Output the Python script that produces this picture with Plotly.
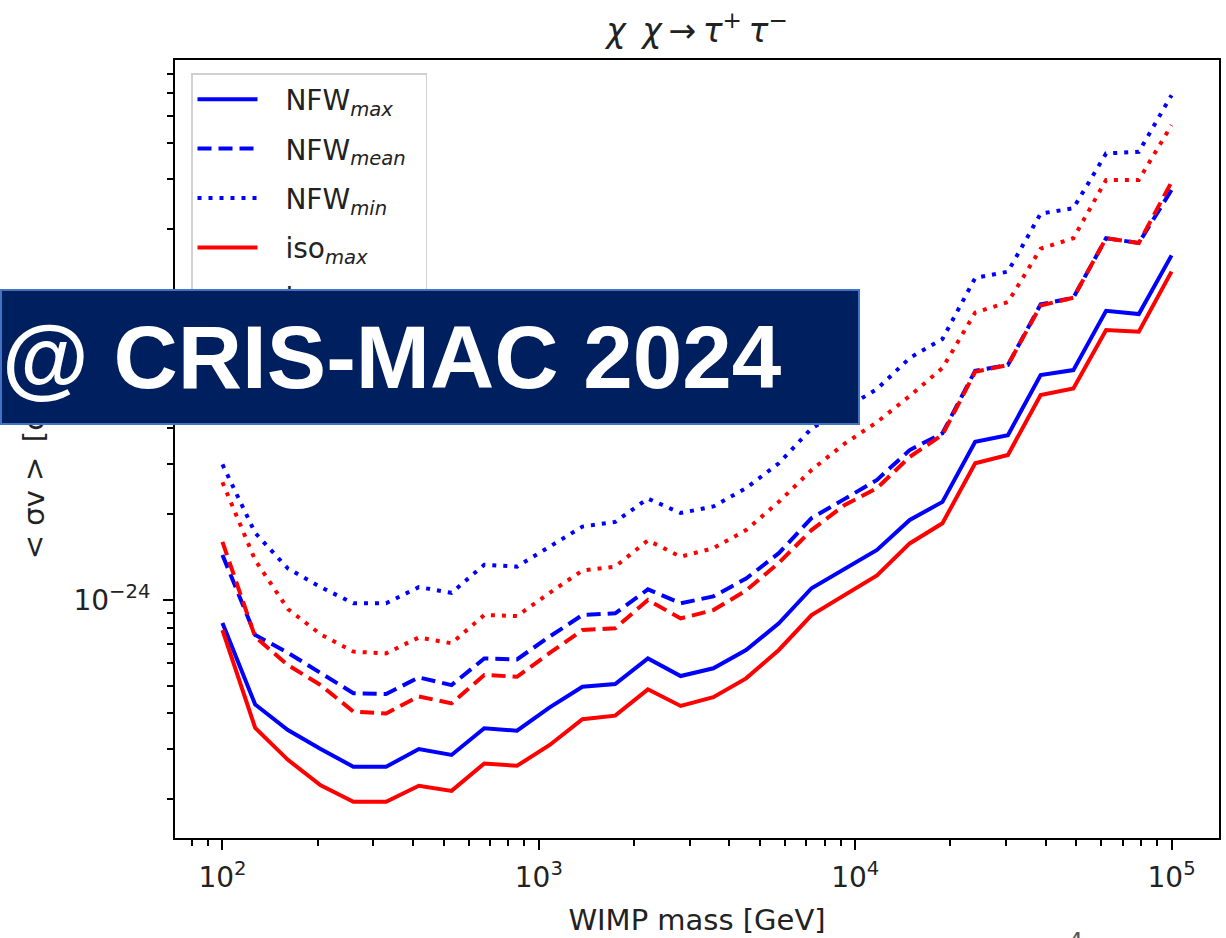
import plotly.graph_objects as go

# WIMP masses [GeV] (30 log-spaced points from 100 GeV to 100 TeV)
wimp_mass = [100, 126.90, 161.03, 204.35, 259.32, 329.07, 417.53, 529.83, 672.34, 853.17,
             1082.6, 1373.8, 1743.3, 2212.2, 2807.2, 3562.2, 4520.4, 5736.2, 7278.9, 9236.7,
             11721, 14874, 18874, 23950, 30392, 38566, 48939, 62102, 78805, 100000]

# <sigma v> upper limits [cm^3/s]
nfw_max = [8.3e-25, 4.3e-25, 3.5e-25, 3.0e-25, 2.6e-25, 2.6e-25, 3.0e-25, 2.86e-25, 3.55e-25, 3.48e-25,
           4.2e-25, 4.96e-25, 5.07e-25, 6.24e-25, 5.41e-25, 5.76e-25, 6.68e-25, 8.28e-25, 1.10e-24, 1.29e-24,
           1.50e-24, 1.91e-24, 2.21e-24, 3.59e-24, 3.79e-24, 6.16e-24, 6.41e-24, 1.035e-23, 1.008e-23, 1.62e-23]
nfw_mean = [1.44e-24, 7.54e-25, 6.53e-25, 5.53e-25, 4.71e-25, 4.68e-25, 5.35e-25, 5.03e-25, 6.24e-25, 6.19e-25,
            7.45e-25, 8.86e-25, 8.98e-25, 1.09e-24, 9.74e-25, 1.03e-24, 1.19e-24, 1.46e-24, 1.94e-24, 2.26e-24,
            2.64e-24, 3.36e-24, 3.85e-24, 6.38e-24, 6.68e-24, 1.09e-23, 1.15e-23, 1.86e-23, 1.79e-23, 2.75e-23]
nfw_min = [2.99e-24, 1.72e-24, 1.29e-24, 1.11e-24, 9.74e-25, 9.74e-25, 1.11e-24, 1.06e-24, 1.33e-24, 1.31e-24,
           1.54e-24, 1.81e-24, 1.88e-24, 2.27e-24, 2.02e-24, 2.13e-24, 2.47e-24, 3.02e-24, 4.00e-24, 4.68e-24,
           5.50e-24, 7.07e-24, 8.24e-24, 1.35e-23, 1.42e-23, 2.27e-23, 2.37e-23, 3.69e-23, 3.74e-23, 5.91e-23]
iso_max = [7.85e-25, 3.56e-25, 2.75e-25, 2.24e-25, 1.96e-25, 1.96e-25, 2.23e-25, 2.14e-25, 2.67e-25, 2.62e-25,
           3.10e-25, 3.82e-25, 3.93e-25, 4.86e-25, 4.25e-25, 4.56e-25, 5.31e-25, 6.68e-25, 8.86e-25, 1.04e-24,
           1.22e-24, 1.58e-24, 1.86e-24, 3.02e-24, 3.23e-24, 5.24e-24, 5.53e-24, 8.86e-24, 8.74e-24, 1.42e-23]
iso_mean = [1.60e-24, 7.42e-25, 5.91e-25, 5.03e-25, 4.06e-25, 4.00e-25, 4.59e-25, 4.34e-25, 5.46e-25, 5.38e-25,
            6.52e-25, 7.85e-25, 7.96e-25, 1.00e-24, 8.62e-25, 9.22e-25, 1.08e-24, 1.35e-24, 1.76e-24, 2.15e-24,
            2.47e-24, 3.18e-24, 3.80e-24, 6.32e-24, 6.68e-24, 1.08e-23, 1.15e-23, 1.86e-23, 1.79e-23, 2.93e-23]
iso_min = [2.59e-24, 1.38e-24, 9.30e-25, 7.58e-25, 6.59e-25, 6.50e-25, 7.39e-25, 7.05e-25, 8.86e-25, 8.79e-25,
           1.06e-24, 1.27e-24, 1.31e-24, 1.62e-24, 1.42e-24, 1.52e-24, 1.76e-24, 2.21e-24, 2.86e-24, 3.53e-24,
           4.21e-24, 5.20e-24, 6.52e-24, 1.02e-23, 1.11e-23, 1.71e-23, 1.86e-23, 2.98e-23, 2.98e-23, 4.64e-23]

PAD = "\u2002\u00a0"   # gap between legend line and label, as in the reference
TRAIL = "\u2002"
series_names = [PAD + "NFW<sub><i>max</i></sub>" + TRAIL, PAD + "NFW<sub><i>mean</i></sub>" + TRAIL,
                PAD + "NFW<sub><i>min</i></sub>" + TRAIL, PAD + "iso<sub><i>max</i></sub>" + TRAIL,
                PAD + "iso<sub><i>mean</i></sub>" + TRAIL, PAD + "iso<sub><i>min</i></sub>" + TRAIL]
series_values = [nfw_max, nfw_mean, nfw_min, iso_max, iso_mean, iso_min]
series_colors = ["#0000ff", "#0000ff", "#0000ff", "#ff0000", "#ff0000", "#ff0000"]
series_dashes = ["solid", "14px,7px", "4px,7px", "solid", "14px,7px", "4px,7px"]

x_tick_vals = [1e2, 1e3, 1e4, 1e5]
x_tick_text = ["10<sup>2</sup>", "10<sup>3</sup>", "10<sup>4</sup>", "10<sup>5</sup>"]
y_tick_vals = [1e-24, 1e-23]
y_tick_text = ["10<sup>\u221224</sup>", "10<sup>\u221223</sup>"]

x_minor = [m * 10 ** e for e in range(1, 6) for m in range(2, 10)]
y_minor = [m * 10.0 ** e for e in range(-26, -21) for m in range(2, 10)]

fig = go.Figure()
for name, vals, color, dash in zip(series_names, series_values, series_colors, series_dashes):
    fig.add_trace(go.Scatter(x=wimp_mass, y=vals, mode="lines", name=name, legendgroup=name,
                             line=dict(color=color, width=4, dash=dash)))

W, H = 1226, 938
L, R, T, B = 175, 7, 60, 100
pw, ph = W - L - R, H - T - B

axis_common = dict(showline=True, linecolor="black", linewidth=2, mirror=True,
                   ticks="outside", ticklen=10, tickwidth=2, tickcolor="black",
                   showgrid=False, zeroline=False,
                   tickfont=dict(family="DejaVu Sans", size=28, color="#222"))

title_text = ("<i>\u03c7</i>\u2002<i>\u03c7</i>\u2009\u2192\u2009<i>\u03c4</i><sup>+</sup>"
              "\u2009<i>\u03c4</i><sup>\u2212</sup>")

fig.update_layout(
    width=W, height=H,
    margin=dict(l=L, r=R, t=T, b=B, autoexpand=False),
    paper_bgcolor="white", plot_bgcolor="white",
    font=dict(family="DejaVu Sans", size=28, color="#222"),
    title=dict(text=title_text,
               x=0.5, xref="paper", xanchor="center", y=1 - 30 / H, yref="container", yanchor="middle",
               font=dict(family="DejaVu Sans", size=33, color="#222")),
    xaxis=dict(type="log", range=[1.85, 5.15], tickvals=x_tick_vals, ticktext=x_tick_text,
               ticklabelstandoff=3,
               minor=dict(ticks="outside", ticklen=6, tickwidth=1.5, tickcolor="black", tickvals=x_minor, showgrid=False),
               title=dict(text="WIMP mass [GeV]", standoff=17, font=dict(size=29, color="#222")),
               **axis_common),
    yaxis=dict(type="log", range=[-24.835, -22.105], tickvals=y_tick_vals, ticktext=y_tick_text,
               ticklabelstandoff=7,
               minor=dict(ticks="outside", ticklen=6, tickwidth=1.5, tickcolor="black", tickvals=y_minor, showgrid=False),
               title=dict(text="< \u03c3v >\u2002[cm\u00b3/s]", standoff=20, font=dict(size=29, color="#222")),
               **axis_common),
    legend=dict(x=(191 - L) / pw, y=1 - (73 - T) / ph, xanchor="left", yanchor="top",
                bgcolor="rgba(255,255,255,0.8)", bordercolor="#d0d0d0", borderwidth=1.5,
                font=dict(family="DejaVu Sans", size=28, color="#222"), tracegroupgap=10, itemwidth=60),
    annotations=[
        dict(text="<b>@ CRIS-MAC 2024</b>", xref="paper", yref="paper",
             x=-L / pw, y=1 - (289 - T) / ph, xanchor="left", yanchor="top", showarrow=False,
             width=856, height=132, align="left", valign="middle",
             bgcolor="#001f5f", bordercolor="#4472c4", borderwidth=2, borderpad=0,
             font=dict(family="Liberation Sans, Arial, sans-serif", size=89, color="white")),
        dict(text="4", xref="paper", yref="paper", x=(1075 - L) / pw, y=1 - (926 - T) / ph,
             xanchor="center", yanchor="top", showarrow=False,
             font=dict(family="DejaVu Sans", size=24, color="#595959")),
    ],
)

fig.write_html("out.html")
